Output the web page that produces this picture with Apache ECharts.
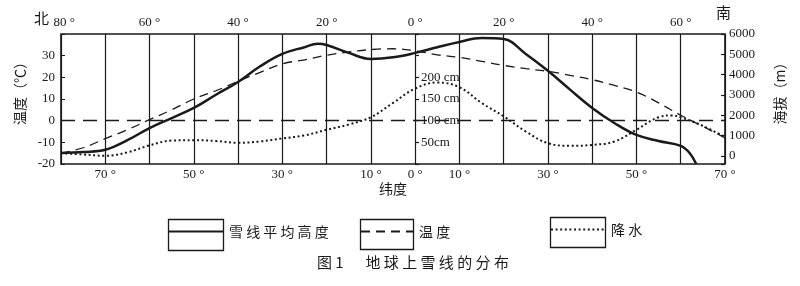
<!DOCTYPE html>
<html><head><meta charset="utf-8">
<script src="https://cdn.jsdelivr.net/npm/echarts@6/dist/echarts.min.js"></script>
<style>html,body{margin:0;padding:0;background:#fff}#c{width:800px;height:286px}</style>
</head><body><div id="c"></div>
<script>
// latitude: negative = north, positive = south
const topTickValues = [-80, -60, -40, -20, 0, 20, 40, 60];
const bottomTickValues = [-70, -50, -30, -10, 0, 10, 30, 50, 70];
const elevationTicks = [0, 1000, 2000, 3000, 4000, 5000, 6000];
const precipTicks = [50, 100, 150, 200];

const snowLat =    [-80,-75,-70,-65,-60,-55,-50,-45,-40,-35,-30,-25,-22,-20,-15,-10,-5,0,5,10,15,20,25,30,35,40,45,50,55,60,62,63.5];
const snowHeight = [140,190,300,770,1370,1860,2360,3010,3640,4410,5020,5350,5520,5460,5070,4770,4850,5070,5350,5610,5800,5750,5020,4190,3260,2360,1620,1030,730,490,140,-400];

const tempLat = [-80,-75,-70,-65,-60,-55,-50,-45,-40,-35,-30,-25,-20,-15,-10,-5,0,5,10,15,20,25,30,35,40,45,50,55,60,65,70];
const tempC =   [-15,-12.5,-8.3,-4.2,0.5,5,10,13.8,18.2,22.3,26.2,28.1,30.2,31.7,32.8,33.2,32.2,30.4,29.2,27.4,25.5,24,22.8,20.9,18.9,16.3,13.2,8.2,2.5,-2.6,-8];

const precLat = [-80,-75,-70,-65,-60,-55,-50,-45,-40,-35,-30,-25,-20,-15,-10,-5,0,5,10,15,20,25,30,35,40,45,50,55,58,60,65,70];
const precCm =  [25,22,19,27,43,54,55,53,49,52,59,66,79,91,108,141,174,188,177,141,110,75,48,42,44,52,79,108,112,108,88,62];

const ink = '#1a1a1a';
const font = "'Liberation Serif','Noto Sans CJK SC',serif";
const cjk = "'Noto Sans CJK SC','Liberation Serif',sans-serif";
const zip = (a, b) => a.map((v, i) => [v, b[i]]);
const spaced = n => n.split('').join(' ');
const noLine = {show: false, onZero: false};
const legendBase = {
  padding: 0, itemHeight: 29, selectedMode: false, formatter: spaced,
  itemStyle: {color: 'rgba(0,0,0,0)', borderWidth: 0, opacity: 0},
  textStyle: {fontFamily: cjk, fontSize: 14, color: ink}
};

const chart = echarts.init(document.getElementById('c'), null, {renderer: 'canvas'});
chart.setOption({
  animation: false,
  backgroundColor: '#fff',
  textStyle: {fontFamily: font, color: ink},
  grid: {left: 61, right: 75, top: 34, bottom: 122, show: true, borderColor: ink, borderWidth: 1.6, backgroundColor: 'transparent'},
  title: {
    text: '图 1　  地 球 上 雪 线 的 分 布',
    left: 317, top: 255, padding: 0,
    textStyle: {fontFamily: cjk, fontSize: 15, fontWeight: 'normal', color: ink}
  },
  legend: [
    Object.assign({data: ['雪线平均高度'], left: 168, top: 220, itemWidth: 55}, legendBase),
    Object.assign({data: ['温度'], left: 360, top: 220, itemWidth: 53}, legendBase),
    Object.assign({data: ['降水'], left: 550, top: 218, itemWidth: 55}, legendBase)
  ],
  xAxis: [
    {
      type: 'value', position: 'bottom', min: -80, max: 70, interval: 10,
      name: '纬度', nameLocation: 'middle', nameGap: 18,
      nameTextStyle: {fontFamily: cjk, fontSize: 14, color: ink},
      axisLine: noLine, axisTick: {show: false},
      splitLine: {show: true, lineStyle: {color: ink, width: 1.2}},
      axisLabel: {margin: 4, fontSize: 13, color: ink,
        formatter: v => bottomTickValues.includes(v) ? Math.abs(v) + ' °' : ''}
    },
    {
      type: 'value', position: 'top', min: -80, max: 70, interval: 20,
      axisLine: noLine, axisTick: {show: false}, splitLine: {show: false},
      axisLabel: {margin: 5, fontSize: 13, color: ink,
        formatter: v => topTickValues.includes(v) ? (v === -80 ? '  ' : '') + Math.abs(v) + ' °' : ''}
    }
  ],
  yAxis: [
    {
      type: 'value', position: 'left', min: -20, max: 40, interval: 10,
      name: '温度（℃）', nameLocation: 'middle', nameRotate: 90, nameGap: 34,
      nameTextStyle: {fontFamily: cjk, fontSize: 14, color: ink, padding: [0, 0, 0, 18]},
      axisLine: noLine, splitLine: {show: false},
      axisTick: {show: true, inside: true, length: 4, lineStyle: {color: ink}},
      axisLabel: {margin: 6, fontSize: 13, color: ink, formatter: v => v === 40 ? '' : String(v)}
    },
    {
      type: 'value', position: 'right', min: -400, max: 6000, splitNumber: 6,
      name: '海拔（m）', nameLocation: 'middle', nameRotate: 90, nameGap: 48,
      nameTextStyle: {fontFamily: cjk, fontSize: 14, color: ink, padding: [0, 0, 0, 18]},
      axisLine: noLine, splitLine: {show: false},
      axisTick: {show: true, inside: true, length: 4, lineStyle: {color: ink, width: 1.2}},
      axisLabel: {margin: 4, fontSize: 13, color: ink, customValues: elevationTicks, formatter: v => String(v)}
    },
    {
      type: 'value', position: 'right', offset: -310, min: 0, max: 300, interval: 50,
      axisLine: noLine, splitLine: {show: false},
      axisTick: {show: true, inside: false, length: 4, lineStyle: {color: ink, width: 1.2}},
      axisLabel: {margin: 6, fontSize: 13, color: ink,
        formatter: v => precipTicks.includes(v) ? (v === 50 ? '50cm' : v + ' cm') : ''}
    }
  ],
  series: [
    {
      name: '雪线平均高度', type: 'line', xAxisIndex: 0, yAxisIndex: 1,
      data: zip(snowLat, snowHeight), smooth: 0.4, symbol: 'none',
      lineStyle: {color: ink, width: 2.5}, itemStyle: {color: ink}
    },
    {
      name: '温度', type: 'line', xAxisIndex: 0, yAxisIndex: 0,
      data: zip(tempLat, tempC), smooth: 0.4, symbol: 'none',
      lineStyle: {color: ink, width: 1.3, type: [9, 6]}, itemStyle: {color: ink},
      markLine: {silent: true, symbol: 'none', label: {show: false},
        lineStyle: {color: ink, width: 1.3, type: [14, 8]}, data: [{yAxis: 0}]}
    },
    {
      name: '降水', type: 'line', xAxisIndex: 0, yAxisIndex: 2,
      data: zip(precLat, precCm), smooth: 0.4, symbol: 'none',
      lineStyle: {color: ink, width: 2, type: [2, 2.6]}, itemStyle: {color: ink}
    }
  ],
  graphic: [
    {type: 'text', left: 34, top: 11, style: {text: '北', font: "15px 'Noto Sans CJK SC'", fill: ink}},
    {type: 'text', left: 716, top: 5, style: {text: '南', font: "15px 'Noto Sans CJK SC'", fill: ink}},
    {type: 'rect', shape: {x: 168.5, y: 219.5, width: 55, height: 31}, style: {fill: 'none', stroke: ink, lineWidth: 1.3}},
    {type: 'rect', shape: {x: 360.5, y: 219.5, width: 53, height: 30}, style: {fill: 'none', stroke: ink, lineWidth: 1.3}},
    {type: 'rect', shape: {x: 550.5, y: 217.5, width: 55, height: 30}, style: {fill: 'none', stroke: ink, lineWidth: 1.3}}
  ]
});
</script>
</body></html>
